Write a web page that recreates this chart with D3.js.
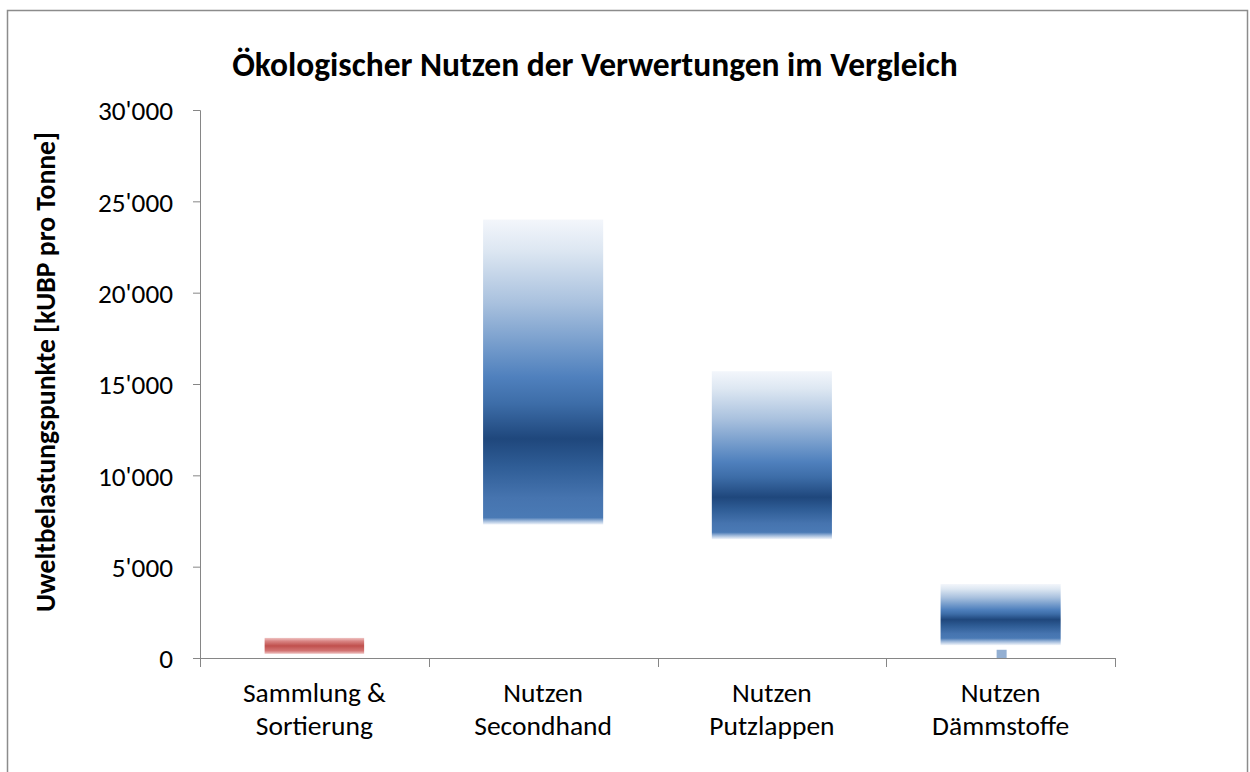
<!DOCTYPE html>
<html>
<head>
<meta charset="utf-8">
<script src="https://cdn.jsdelivr.net/npm/d3@7"></script>
<style>
  html, body { margin: 0; padding: 0; background: #fff; }
  svg { display: block; }
  text { font-family: Carlito, Lato, "Open Sans", sans-serif; fill: #000; }
</style>
</head>
<body>
<svg id="chart" width="1250" height="772"></svg>
<script>
// ---- data ----
const categories = [["Sammlung &", "Sortierung"], ["Nutzen", "Secondhand"], ["Nutzen", "Putzlappen"], ["Nutzen", "Dämmstoffe"]];
const kinds = ["aufwand", "nutzen", "nutzen", "nutzen"];
const lowValues = [230, 7300, 6500, 700];
const midValues = [650, 12000, 8800, 2100];
const highValues = [1100, 24000, 15700, 4050];
const markerValues = [null, null, null, 450];
const yTicks = [0, 5000, 10000, 15000, 20000, 25000, 30000];
const title = "Ökologischer Nutzen der Verwertungen im Vergleich";
const yTitle = "Uweltbelastungspunkte  [kUBP pro Tonne]";

(function () {
// ---- layout ----
const svg = d3.select("#chart");
const pL = 200, pR = 1115, pT = 110, pB = 658;
const axisColor = "#868686";

// fit font size of a text selection so that its width matches target
function fit(sel, target) {
  const node = sel.node();
  const fs = parseFloat(sel.attr("font-size"));
  const len = node.getComputedTextLength();
  if (len > 0) sel.attr("font-size", (fs * target / len).toFixed(2));
  return parseFloat(sel.attr("font-size"));
}

svg.append("rect").attr("x", 7.5).attr("y", 10.5).attr("width", 1240).attr("height", 800)
  .attr("fill", "#fff").attr("stroke", "#8c8c8c").attr("stroke-width", 1.5);

const x = d3.scaleBand().domain(d3.range(categories.length)).range([pL, pR]).padding(0);
const y = d3.scaleLinear().domain([0, 30000]).range([pB, pT]);

const defs = svg.append("defs");

function blueStops(h, m, lowerPx) {
  const up = [[0, "#f3f6fb"], [0.14, "#dde7f2"], [0.38, "#a9c1de"], [0.6, "#6e97c9"], [0.72, "#4f80bd"], [0.84, "#3d6da8"], [1, "#1f477c"]];
  const st = up.map(([f, c]) => [f * m, c]);
  const fade = Math.min(7, lowerPx * 0.35);
  const endSolid = 1 - fade / h;
  const lo = [[0.35, "#2f5d96"], [0.75, "#4674af"]];
  lo.forEach(([f, c]) => st.push([m + f * (endSolid - m), c]));
  st.push([endSolid, "#4a7ab5"]);
  st.push([endSolid + (1 - endSolid) * 0.5, "#a3bcdc"]);
  st.push([1, "#f3f6fb"]);
  return st;
}
function redStops() {
  return [[0, "#efc3c2"], [0.2, "#d98584"], [0.5, "#c0504d"], [0.8, "#d27372"], [1, "#efc3c2"]];
}

categories.forEach((c, i) => {
  const yTop = y(highValues[i]), yBot = y(lowValues[i]), yMid = y(midValues[i]);
  const h = yBot - yTop;
  const m = (yMid - yTop) / h;
  const stops = kinds[i] === "aufwand" ? redStops() : blueStops(h, m, yBot - yMid);
  const g = defs.append("linearGradient").attr("id", "grad" + i)
    .attr("x1", 0).attr("y1", 0).attr("x2", 0).attr("y2", 1);
  stops.forEach(([o, col]) => g.append("stop").attr("offset", Math.max(0, Math.min(1, o))).attr("stop-color", col));
});

// bars
const bw = i => kinds[i] === "aufwand" ? x.bandwidth() * 0.435 : x.bandwidth() * 0.525;
svg.append("g").selectAll("rect").data(d3.range(categories.length)).join("rect")
  .attr("x", i => x(i) + x.bandwidth() / 2 - bw(i) / 2)
  .attr("width", bw)
  .attr("y", i => y(highValues[i]))
  .attr("height", i => y(lowValues[i]) - y(highValues[i]))
  .attr("fill", i => `url(#grad${i})`);

// small markers
svg.append("g").selectAll("rect").data(d3.range(categories.length).filter(i => markerValues[i] != null)).join("rect")
  .attr("x", i => x(i) + x.bandwidth() / 2 - 4)
  .attr("width", 10)
  .attr("y", i => y(markerValues[i]))
  .attr("height", i => y(0) - y(markerValues[i]))
  .attr("fill", "#93afd2");

// y axis
const yAxis = d3.axisLeft(y).tickValues(yTicks).tickSize(7).tickPadding(20)
  .tickFormat(d => d3.format(",")(d).replace(/,/g, "'"));
const gy = svg.append("g").attr("transform", `translate(${pL},0)`).call(yAxis);
gy.select(".domain").attr("stroke", axisColor).attr("d", `M-7,${pT}.5H0.5V${pB}`);
gy.selectAll(".tick line").attr("stroke", axisColor);
const tickTexts = gy.selectAll(".tick text").attr("font-size", 20).attr("fill", "#000").attr("dy", "0.36em")
  .style("font-family", "Carlito, Lato, 'Open Sans', sans-serif");
const tfs = fit(gy.selectAll(".tick text").filter(d => d === 30000), 75);
tickTexts.attr("font-size", tfs);

// x axis
const gx = svg.append("g");
gx.append("line").attr("x1", pL - 7).attr("x2", pR).attr("y1", pB + 0.5).attr("y2", pB + 0.5).attr("stroke", axisColor);
const bounds = d3.range(categories.length + 1).map(i => i < categories.length ? x(i) : x(i - 1) + x.bandwidth());
gx.selectAll("line.t").data(bounds).join("line").attr("class", "t")
  .attr("x1", d => Math.round(d) + 0.5).attr("x2", d => Math.round(d) + 0.5)
  .attr("y1", pB).attr("y2", pB + 9).attr("stroke", axisColor);
const catTexts = [];
categories.forEach((c, i) => {
  const t = gx.append("text").attr("text-anchor", "middle").attr("font-size", 20)
    .attr("x", x(i) + x.bandwidth() / 2).attr("y", 702);
  c.forEach((line, j) => t.append("tspan").attr("x", x(i) + x.bandwidth() / 2).attr("dy", j === 0 ? 0 : 33).text(line));
  catTexts.push(t);
});
// size from first line of first category
const probe = gx.append("text").attr("font-size", 20).text(categories[0][0]);
const cfs = fit(probe, 143);
probe.remove();
catTexts.forEach(t => t.attr("font-size", cfs));

// title
const tt = svg.append("text").attr("x", 595).attr("y", 76).attr("text-anchor", "middle")
  .attr("font-size", 27).attr("font-weight", "bold").text(title);
fit(tt, 726);

// y title
const yt = svg.append("text").attr("transform", `translate(55,${(pT + pB) / 2 - 12}) rotate(-90)`)
  .attr("text-anchor", "middle").attr("font-size", 19).attr("font-weight", "bold").text(yTitle);
fit(yt, 480);
})();
</script>
</body>
</html>
